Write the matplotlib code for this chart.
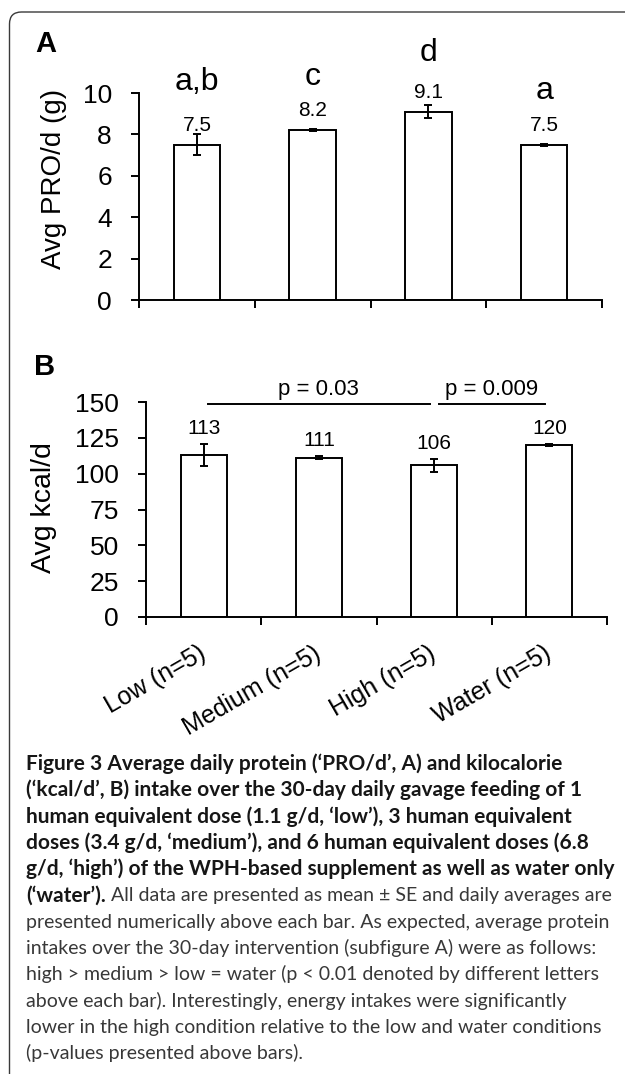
import numpy as np
import matplotlib
matplotlib.use('Agg')
import matplotlib.pyplot as plt
from matplotlib import font_manager
from matplotlib.patches import FancyBboxPatch
from matplotlib.transforms import IdentityTransform

# values
groups = ['Low (n=5)', 'Medium (n=5)', 'High (n=5)', 'Water (n=5)']
pro_mean = [7.5, 8.2, 9.1, 7.5]
pro_se = [0.5, 0.05, 0.3, 0.05]
pro_letters = ['a,b', 'c', 'd', 'a']
kcal_mean = [113, 111, 106, 120]
kcal_se = [7.5, 1.0, 4.5, 1.0]
kcal_pairs = [(0, 2, 'p = 0.03'), (2, 3, 'p = 0.009')]

caption_bold = [
    'Figure 3 Average daily protein (\u2018PRO/d\u2019, A) and kilocalorie',
    '(\u2018kcal/d\u2019, B) intake over the 30-day daily gavage feeding of 1',
    'human equivalent dose (1.1 g/d, \u2018low\u2019), 3 human equivalent',
    'doses (3.4 g/d, \u2018medium\u2019), and 6 human equivalent doses (6.8',
    'g/d, \u2018high\u2019) of the WPH-based supplement as well as water only',
]
caption_mixed = ('(\u2018water\u2019).',
                 ' All data are presented as mean \u00b1 SE and daily averages are')
caption_plain = [
    'presented numerically above each bar. As expected, average protein',
    'intakes over the 30-day intervention (subfigure A) were as follows:',
    'high > medium > low = water (p < 0.01 denoted by different letters',
    'above each bar). Interestingly, energy intakes were significantly',
    'lower in the high condition relative to the low and water conditions',
    '(p-values presented above bars).',
]

plt.rcParams['font.family'] = 'Liberation Sans'


def pick_family(cands):
    for fam in cands:
        try:
            font_manager.findfont(font_manager.FontProperties(family=fam),
                                  fallback_to_default=False)
            return fam
        except ValueError:
            pass
    return 'DejaVu Sans'


W, H = 625, 1074
fig = plt.figure(figsize=(W / 100, H / 100), dpi=100)


def add_ax(left, top, right, bottom):
    return fig.add_axes([left / W, 1 - bottom / H, (right - left) / W, (bottom - top) / H])


axA = add_ax(139, 93, 602, 300)
axB = add_ax(146, 402, 607, 617)
x = np.arange(len(groups))


def style(ax, ymax, step):
    ax.set_xlim(-0.5, len(groups) - 0.5)
    ax.set_ylim(0, ymax)
    ax.set_yticks(np.arange(0, ymax + step / 2, step))
    ax.set_xticks(x)
    ax.set_xticks(np.arange(-0.5, len(groups)), minor=True)
    for s in ['top', 'right']:
        ax.spines[s].set_visible(False)
    for s in ['left', 'bottom']:
        ax.spines[s].set_linewidth(1.4)
    ax.tick_params(axis='y', direction='out', length=5.5, width=1.4, labelsize=19, pad=14)
    ax.tick_params(axis='x', which='major', length=0)
    ax.tick_params(axis='x', which='minor', direction='out', length=5.5, width=1.4)


err_kw = dict(ecolor='black', elinewidth=1.4, capsize=2.8, capthick=1.4)

# panel A - protein
axA.bar(x, pro_mean, width=0.4, color='white', edgecolor='black', linewidth=1.4,
        yerr=pro_se, error_kw=err_kw)
style(axA, 10, 2)
axA.set_xticklabels([])
axA.set_ylabel('Avg PRO/d (g)', fontsize=20)
axA.yaxis.set_label_coords(-0.1555, 0.585)
for i, (m, e) in enumerate(zip(pro_mean, pro_se)):
    axA.text(i, m + 0.68, '{:g}'.format(m), ha='center', va='baseline', fontsize=15)
    axA.text(i, m + e + 2.15, pro_letters[i], ha='center', va='baseline', fontsize=23)

# panel B - kcal
axB.bar(x, kcal_mean, width=0.4, color='white', edgecolor='black', linewidth=1.4,
        yerr=kcal_se, error_kw=err_kw)
style(axB, 150, 25)
axB.set_xticklabels(groups, rotation=30, ha='right', va='center',
                    rotation_mode='anchor', fontsize=18)
axB.tick_params(axis='x', which='major', pad=25)
axB.set_ylabel('Avg kcal/d', fontsize=20.5)
axB.yaxis.set_label_coords(-0.193, 0.51)
for i, (m, e) in enumerate(zip(kcal_mean, kcal_se)):
    axB.text(i, m + e + 7, '{:g}'.format(m), ha='center', va='baseline', fontsize=15)
for a, b, lab in kcal_pairs:
    axB.plot([a + 0.04, b - 0.04], [148.6, 148.6], color='black', lw=1.4, clip_on=False)
    axB.text((a + b) / 2, 155, lab, ha='center', va='baseline', fontsize=16)

fig.text(35 / W, 1 - 52 / H, 'A', fontsize=21, fontweight='bold', va='baseline')
fig.text(34 / W, 1 - 375 / H, 'B', fontsize=21, fontweight='bold', va='baseline')

# rounded frame, open to the right and bottom
frame = FancyBboxPatch((9.5, -30), 700, H - 12 + 30,
                       boxstyle='round,pad=0,rounding_size=12',
                       transform=IdentityTransform(), fill=False,
                       edgecolor='#3a3a3a', linewidth=1.0)
fig.add_artist(frame)

# caption
cap_fam = pick_family(['Liberation Sans Narrow', 'Lato', 'Open Sans'])
renderer = fig.canvas.get_renderer()


def text_w(s, size, weight):
    t = fig.text(0, 0, s, fontsize=size, family=cap_fam, fontweight=weight)
    w = t.get_window_extent(renderer).width
    t.remove()
    return w


fs_bold = 10 * 588 / text_w(caption_bold[4], 10, 'bold')
fs_reg = 10 * 586 / text_w(caption_plain[0], 10, 'normal')
bold_col = '#161616'
reg_col = '#383838'
x0 = 26
y0 = 770
dy = 26.3
row = 0
for line in caption_bold:
    fig.text(x0 / W, 1 - (y0 + row * dy) / H, line, fontsize=fs_bold, family=cap_fam,
             fontweight='bold', color=bold_col, va='baseline')
    row += 1
wb = text_w(caption_mixed[0], fs_bold, 'bold')
yy = 1 - (y0 + row * dy) / H
fig.text(x0 / W, yy, caption_mixed[0], fontsize=fs_bold, family=cap_fam,
         fontweight='bold', color=bold_col, va='baseline')
fig.text((x0 + wb) / W, yy, caption_mixed[1], fontsize=fs_reg, family=cap_fam,
         fontweight='normal', color=reg_col, va='baseline')
row += 1
for line in caption_plain:
    fig.text(x0 / W, 1 - (y0 + row * dy) / H, line, fontsize=fs_reg, family=cap_fam,
             fontweight='normal', color=reg_col, va='baseline')
    row += 1

fig.savefig('out.png', dpi=100)
